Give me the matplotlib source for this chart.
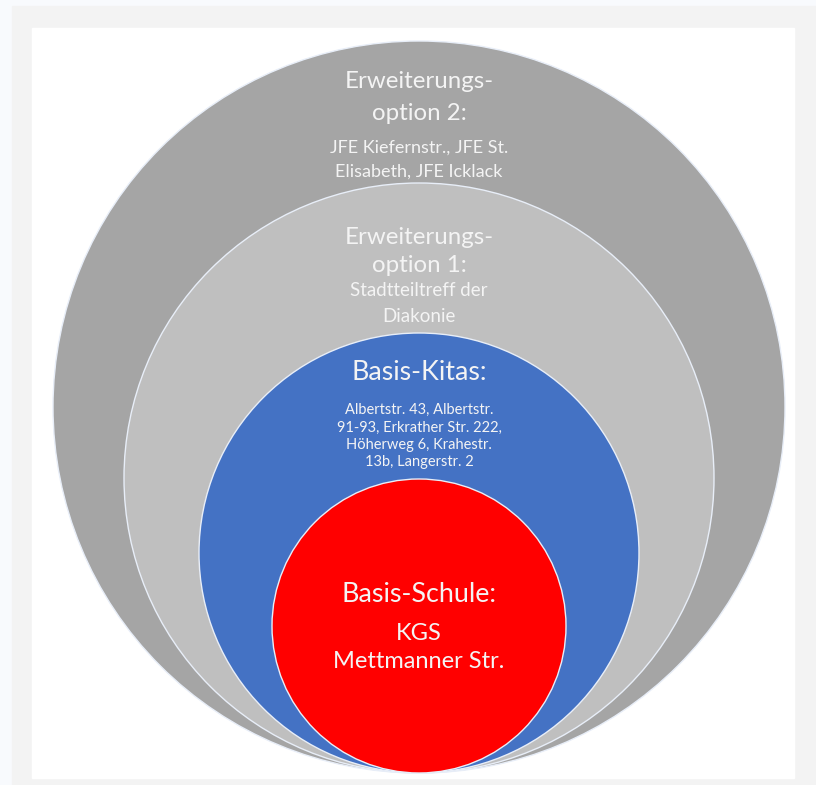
import matplotlib.pyplot as plt
from matplotlib.patches import Circle, Rectangle

# nested rings, outermost first (radius in px)
names = ["Erweiterungsoption 2", "Erweiterungsoption 1", "Basis-Kitas", "Basis-Schule"]
radii = [366, 295, 220, 147]
colors = ["#a5a5a5", "#bfbfbf", "#4472c4", "#ff0000"]

# text blocks: (title lines, detail lines)
titles = [["Erweiterungs-", "option 2:"],
          ["Erweiterungs-", "option 1:"],
          ["Basis-Kitas:"],
          ["Basis-Schule:"]]
details = [["JFE Kiefernstr., JFE St.", "Elisabeth, JFE Icklack"],
           ["Stadtteiltreff der", "Diakonie"],
           ["Albertstr. 43, Albertstr.", "91-93, Erkrather Str. 222,",
            "Höherweg 6, Krahestr.", "13b, Langerstr. 2"],
           ["KGS", "Mettmanner Str."]]

W, H = 816, 785
fig = plt.figure(figsize=(W / 100, H / 100), dpi=100, facecolor="#f8fafd")
ax = fig.add_axes([0, 0, 1, 1])
ax.set_xlim(0, W)
ax.set_ylim(H, 0)
ax.axis("off")
plt.rcParams["font.family"] = ["Lato", "DejaVu Sans"]

# frame + white panel
ax.add_patch(Rectangle((12, 6), W - 12, H - 6, color="#f3f3f3", zorder=0))
ax.add_patch(Rectangle((32, 28), 762, 750, color="white", zorder=1))

cx, bottom = 419, 773
for i, (r, c) in enumerate(zip(radii, colors)):
    ax.add_patch(Circle((cx, bottom - r), r, facecolor=c, edgecolor="#e8eef8",
                        linewidth=1.0, zorder=2 + i))

# text layout: y of each line (px)
title_y = [[82, 113], [237, 266], [372], [594]]
detail_y = [[148, 172], [291, 316], [410, 428, 445, 462], [634, 662]]
title_fs = [17.3, 17.3, 19.3, 19.4]
detail_fs = [13, 13.5, 10.5, 17]
txt = "#f4f4f4"
for i in range(len(names)):
    for s, y in zip(titles[i], title_y[i]):
        ax.text(cx, y, s, ha="center", va="center", color=txt,
                fontsize=title_fs[i], zorder=10)
    for s, y in zip(details[i], detail_y[i]):
        ax.text(cx, y, s, ha="center", va="center", color=txt,
                fontsize=detail_fs[i], zorder=10)

fig.savefig("out.png", dpi=100, facecolor=fig.get_facecolor())
